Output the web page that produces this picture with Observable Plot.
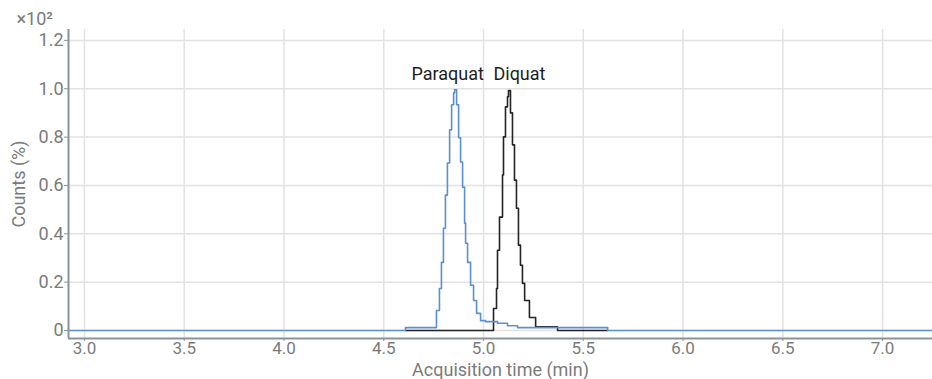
<!DOCTYPE html>
<html>
<head>
<meta charset="utf-8">
<script src="https://cdn.jsdelivr.net/npm/d3@7"></script>
<script src="https://cdn.jsdelivr.net/npm/@observablehq/plot@0.6"></script>
<style>
  html, body { margin: 0; padding: 0; background: #fff; }
  #chart svg { display: block; }
</style>
</head>
<body>
<div id="chart"></div>
<script>
// Acquisition time (min) and counts (×10² %)
const paraquatTime = [2.92, 4.609, 4.764, 4.779, 4.789, 4.799, 4.809, 4.819, 4.830, 4.840, 4.850, 4.855, 4.865, 4.875, 4.885, 4.895, 4.905, 4.910, 4.920, 4.935, 4.950, 4.965, 4.985, 5.010, 5.070, 5.120, 5.170, 5.622, 7.25];
const paraquatCounts = [0, 0.012, 0.083, 0.174, 0.282, 0.423, 0.560, 0.693, 0.830, 0.934, 0.983, 0.996, 0.934, 0.797, 0.697, 0.593, 0.444, 0.361, 0.282, 0.187, 0.124, 0.071, 0.041, 0.037, 0.030, 0.020, 0.012, 0, 0];

const diquatTime = [4.609, 5.050, 5.065, 5.070, 5.080, 5.095, 5.100, 5.110, 5.120, 5.125, 5.135, 5.145, 5.155, 5.165, 5.175, 5.185, 5.195, 5.206, 5.230, 5.261, 5.371, 5.622];
const diquatCounts = [0, 0.091, 0.174, 0.332, 0.469, 0.643, 0.801, 0.925, 0.967, 0.992, 0.900, 0.768, 0.622, 0.506, 0.353, 0.270, 0.195, 0.124, 0.054, 0.015, 0, 0];

const peakNames = ["Paraquat", "Diquat"];
const peakLabelTime = [4.82, 5.18];
const peakLabelCounts = [1.06, 1.06];

const xTicks = [3.0, 3.5, 4.0, 4.5, 5.0, 5.5, 6.0, 6.5, 7.0];
const yTicks = [0, 0.2, 0.4, 0.6, 0.8, 1.0, 1.2];
const xDomain = [2.92, 7.25];
const yDomain = [-0.033, 1.245];

const paraquat = paraquatTime.map((t, i) => ({t, v: paraquatCounts[i]}));
const diquat = diquatTime.map((t, i) => ({t, v: diquatCounts[i]}));
const labels = peakNames.map((name, i) => ({name, t: peakLabelTime[i], v: peakLabelCounts[i]}));

const axisColor = "#8a939b";
const textColor = "#7b7b7b";
const fs = 18;

const chart = Plot.plot({
  width: 932,
  height: 379,
  marginLeft: 68,
  marginRight: 0,
  marginTop: 29,
  marginBottom: 41,
  style: {fontFamily: "Roboto, sans-serif", fontSize: fs + "px", background: "#fff"},
  x: {domain: xDomain},
  y: {domain: yDomain},
  marks: [
    Plot.ruleX(xTicks, {stroke: "#e2e2e2", strokeWidth: 1.5}),
    Plot.ruleY(yTicks, {stroke: "#e2e2e2", strokeWidth: 1.5}),
    Plot.line(diquat, {x: "t", y: "v", curve: "step-after", stroke: "#232323", strokeWidth: 1.6}),
    Plot.line(paraquat, {x: "t", y: "v", curve: "step-after", stroke: "#5a8fd2", strokeWidth: 1.6}),
    Plot.ruleX([xDomain[0]], {stroke: axisColor, strokeWidth: 2}),
    Plot.ruleY([yDomain[0]], {stroke: axisColor, strokeWidth: 2}),
    Plot.axisX(xTicks, {tickFormat: d => d.toFixed(1), tickSize: 3, stroke: axisColor, color: textColor, fontSize: 17, tickPadding: 0, label: null}),
    Plot.axisY(yTicks, {tickFormat: d => d === 0 ? "0" : d.toFixed(1), tickSize: 4, stroke: axisColor, color: textColor, fontSize: fs, tickPadding: 1, label: null}),
    Plot.text(labels, {x: "t", y: "v", text: "name", fill: "#1e1e1e", fontSize: fs}),
    Plot.text(["Counts (%)"], {frameAnchor: "left", textAnchor: "middle", lineAnchor: "middle", rotate: -90, dx: -49, fill: textColor, fontSize: fs}),
    Plot.text(["Acquisition time (min)"], {frameAnchor: "bottom", lineAnchor: "bottom", dy: 37, fill: textColor, fontSize: fs}),
    Plot.text(["×10²"], {frameAnchor: "top-left", textAnchor: "start", lineAnchor: "top", dx: -52, dy: -17, fill: textColor, fontSize: fs})
  ]
});
document.getElementById("chart").appendChild(chart);
</script>
</body>
</html>
